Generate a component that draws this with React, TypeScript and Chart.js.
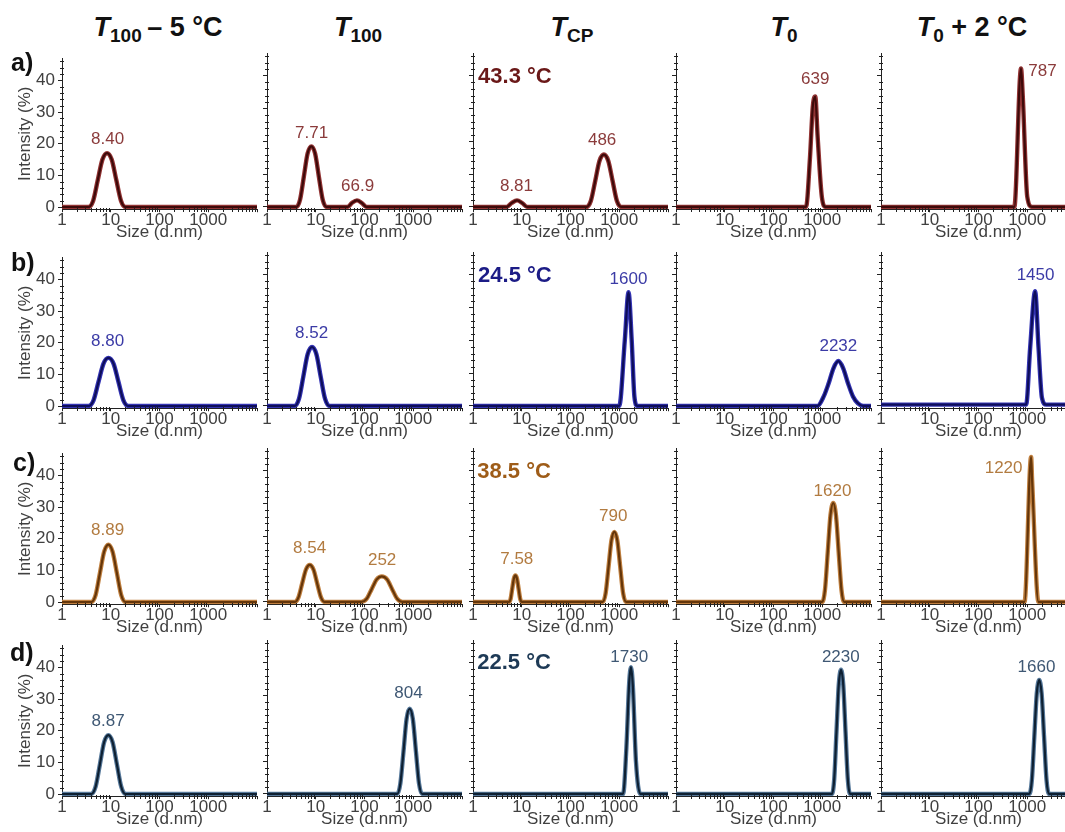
import React, { useEffect, useRef } from 'react';
import { Chart, registerables } from 'chart.js';

Chart.register(...registerables);

const FONT = '"Liberation Sans", Arial, Helvetica, sans-serif';

// ---------- axes ----------
const X_TICKS = [1, 10, 100, 1000, 10000];
const X_TICK_LABELS = ['1', '10', '100', '1000', ''];
const Y_TICKS = [0, 10, 20, 30, 40];
const X_TITLE = 'Size (d.nm)';
const Y_TITLE = 'Intensity (%)';
const ROW_LETTERS = ['a)', 'b)', 'c)', 'd)'];
const TEMPS = ['43.3 °C', '24.5 °C', '38.5 °C', '22.5 °C'];

// ---------- row a ----------
const a1Size = [1, 3.5, 4.36, 5.42, 6.75, 8.4, 10.45, 13, 16.2, 20.1, 10000];
const a1Int = [0, 0, 2, 8.5, 15, 17, 15, 8.5, 2, 0, 0];
const a1Labels = [['8.40', 8.6, 21.4]];

const a2Size = [1, 4, 4.76, 5.69, 6.8, 8.13, 9.7, 11.6, 13.9, 16.6, 45, 55, 70, 88, 110, 10000];
const a2Int = [0, 0, 2.2, 9.2, 16.3, 18.5, 16.3, 9.2, 2.2, 0, 0, 1.2, 2, 1.2, 0, 0];
const a2Labels = [['7.71', 8.2, 22.5], ['66.9', 72, 6.2]];

const a3Size = [1, 4.9, 6.2, 8, 10.2, 13, 214, 262, 322, 394, 484, 594, 729, 893, 1096, 10000];
const a3Int = [0, 0, 1.2, 2, 1.2, 0, 0, 1.9, 8, 14.1, 16, 14.1, 8, 1.9, 0, 0];
const a3Labels = [['8.81', 7.8, 6.4], ['486', 445, 20.2]];

const a4Size = [1, 465, 560, 640, 720, 800, 980, 1180, 10000];
const a4Int = [0, 0, 15, 30.6, 33.7, 22, 3.1, 0, 0];
const a4Labels = [['639', 720, 39.1]];

const a5Size = [1, 543, 745, 810, 1000, 1250, 10000];
const a5Int = [0, 0, 42.3, 33.7, 3.1, 0, 0];
const a5Labels = [['787', 1050, 41.3, 'left']];

// ---------- row b ----------
const b1Size = [1, 3.5, 4.43, 5.6, 7.1, 8.97, 11.4, 14.4, 18.2, 23, 10000];
const b1Int = [0, 0, 1.8, 7.6, 13.4, 15.2, 13.4, 7.6, 1.8, 0, 0];
const b1Labels = [['8.80', 8.6, 20.3]];

const b2Size = [1, 3.7, 4.54, 5.57, 6.83, 8.38, 10.3, 12.6, 15.5, 19, 10000];
const b2Int = [0, 0, 2.2, 9, 15.8, 18, 15.8, 9, 2.2, 0, 0];
const b2Labels = [['8.52', 8.2, 22.3]];

const b3Size = [1, 1000, 1300, 1550, 1800, 2050, 2350, 10000];
const b3Int = [0, 0, 20, 34.7, 20, 2.7, 0, 0];
const b3Labels = [['1600', 1550, 38.8]];

const b4Size = [1, 800, 1072, 1349, 1698, 2138, 2692, 3388, 4266, 5400, 6900, 10000];
const b4Int = [0, 0, 2.9, 6.85, 11.5, 13.7, 11.5, 6.85, 2.9, 0.8, 0, 0];
const b4Labels = [['2232', 2138, 18.3]];

const b5Size = [1, 950, 1150, 1450, 1700, 2000, 2450, 10000];
const b5Int = [0.4, 0.4, 18, 35, 18, 2.5, 0.4, 0.4];
const b5Labels = [['1450', 1480, 39.8]];

// ---------- row c ----------
const c1Size = [1, 4, 4.89, 5.98, 7.32, 8.94, 10.9, 13.4, 16.4, 20, 10000];
const c1Int = [0, 0, 2.2, 9.05, 15.9, 18.1, 15.9, 9.05, 2.2, 0, 0];
const c1Labels = [['8.89', 8.6, 22.6]];

const c2Size = [1, 3.7, 4.42, 5.27, 6.3, 7.52, 8.98, 10.7, 12.8, 15.3, 86, 110, 140, 178, 227, 290, 369, 471, 600, 10000];
const c2Int = [0, 0, 1.4, 5.65, 9.9, 11.3, 9.9, 5.65, 1.4, 0, 0, 0.9, 3.9, 6.9, 7.8, 6.9, 3.9, 0.9, 0, 0];
const c2Labels = [['8.54', 7.5, 16.4], ['252', 230, 12.7]];

const c3Size = [1, 5.5, 5.92, 6.38, 6.88, 7.41, 7.99, 8.61, 9.28, 10, 457, 525, 603, 692, 794, 912, 1047, 1202, 1380, 10000];
const c3Int = [0, 0, 1, 4.05, 7.1, 8.1, 7.1, 4.05, 1, 0, 0, 2.6, 10.7, 18.8, 21.4, 18.8, 10.7, 2.6, 0, 0];
const c3Labels = [['7.58', 7.9, 13], ['790', 750, 26]];

const c4Size = [1, 1000, 1138, 1295, 1475, 1679, 1910, 2174, 2477, 2818, 10000];
const c4Int = [0, 0, 3.7, 15.1, 26.5, 30.2, 26.5, 15.1, 3.7, 0, 0];
const c4Labels = [['1620', 1620, 33.8]];

const c5Size = [1, 880, 1200, 1260, 1700, 10000];
const c5Int = [0, 0, 44.3, 37, 0, 0];
const c5Labels = [['1220', 800, 40.9, 'right']];

// ---------- row d ----------
const d1Size = [1, 4, 4.89, 5.98, 7.32, 8.94, 10.9, 13.4, 16.4, 20, 10000];
const d1Int = [0, 0, 2.3, 9.3, 16.4, 18.6, 16.4, 9.3, 2.3, 0, 0];
const d1Labels = [['8.87', 8.8, 23]];

const d2Size = [1, 470, 544, 631, 730, 845, 980, 1135, 1313, 1520, 10000];
const d2Int = [0, 0, 3.2, 13, 22.9, 26, 22.9, 13, 3.2, 0, 0];
const d2Labels = [['804', 800, 30.6]];

const d3Size = [1, 1200, 1400, 1600, 1740, 1900, 2200, 2700, 10000];
const d3Int = [0, 0, 14, 34, 38.7, 33, 10, 0, 0];
const d3Labels = [['1730', 1600, 41.6]];

const d4Size = [1, 1585, 1762, 1959, 2181, 2427, 2698, 3000, 3342, 3715, 10000];
const d4Int = [0, 0, 4.6, 19, 33.3, 37.9, 33.3, 19, 4.6, 0, 0];
const d4Labels = [['2230', 2400, 41.6]];

const d5Size = [1, 1109, 1245, 1396, 1567, 1758, 1972, 2213, 2483, 2786, 10000];
const d5Int = [0, 0, 4.3, 17.4, 30.6, 34.8, 30.6, 17.4, 4.3, 0, 0];
const d5Labels = [['1660', 1550, 38.8]];

const PANELS: any[][] = [
  [[a1Size, a1Int, a1Labels], [a2Size, a2Int, a2Labels], [a3Size, a3Int, a3Labels], [a4Size, a4Int, a4Labels], [a5Size, a5Int, a5Labels]],
  [[b1Size, b1Int, b1Labels], [b2Size, b2Int, b2Labels], [b3Size, b3Int, b3Labels], [b4Size, b4Int, b4Labels], [b5Size, b5Int, b5Labels]],
  [[c1Size, c1Int, c1Labels], [c2Size, c2Int, c2Labels], [c3Size, c3Int, c3Labels], [c4Size, c4Int, c4Labels], [c5Size, c5Int, c5Labels]],
  [[d1Size, d1Int, d1Labels], [d2Size, d2Int, d2Labels], [d3Size, d3Int, d3Labels], [d4Size, d4Int, d4Labels], [d5Size, d5Int, d5Labels]],
];

// ---------- styles / layout ----------
const ROW_COLORS = [
  { outer: '#923434', inner: '#3e0a0a', label: '#8b3b3b', temp: '#6a1818' },
  { outer: '#3434b4', inner: '#0e0e5a', label: '#3b3ba6', temp: '#1c1c86' },
  { outer: '#c08040', inner: '#65360a', label: '#b27b40', temp: '#9e5c18' },
  { outer: '#56789a', inner: '#0e2032', label: '#3f5874', temp: '#1e3a56' },
];
const TEMP_POS = [[1.27, 39.6], [1.27, 39.8], [1.22, 39.8], [1.22, 39.9]];

const COL_X = [62, 267, 473, 676, 881];
const ROW_ZERO = [207, 406, 602, 794];
const PX = 3.275; // px per % unit
const Y_MIN = -0.7;
const Y_MAX = 47;
const PLOT_W = 195;
const PAD_TOP = 8;
const PAD_R = 2;
const X_H = 34;
const AXIS = '#222222';
const TXT = '#404040';

function Panel({ row, col }: { row: number; col: number }) {
  const ref = useRef<HTMLCanvasElement>(null);
  const [sizes, ints, labels] = PANELS[row][col];
  const colors = ROW_COLORS[row];
  const yW = col === 0 ? 62 : 10;
  const plotH = (Y_MAX - Y_MIN) * PX;
  const plotTop = ROW_ZERO[row] - Y_MAX * PX;
  const left = COL_X[col] - yW;
  const top = Math.round(plotTop - PAD_TOP);
  const width = yW + PLOT_W + PAD_R;
  const height = Math.round(PAD_TOP + plotH + X_H);
  const xh = height - PAD_TOP - plotH;

  useEffect(() => {
    if (!ref.current) return;
    const pts = sizes.map((s: number, i: number) => ({ x: s, y: ints[i] }));
    const annot = {
      id: 'annot',
      afterDraw(chart: any) {
        const { ctx } = chart;
        const xs = chart.scales.x;
        const ys = chart.scales.y;
        ctx.save();
        ctx.strokeStyle = AXIS;
        ctx.lineWidth = 1;
        // y minor ticks
        const ax = Math.round(xs.left) + 0.5;
        for (let v = 2; v <= 46; v += 2) {
          if (v % 10 === 0) continue;
          const py = Math.round(ys.getPixelForValue(v)) + 0.5;
          ctx.beginPath();
          ctx.moveTo(ax - 2.5, py);
          ctx.lineTo(ax + 1.5, py);
          ctx.stroke();
        }
        // x minor ticks
        const by = Math.round(ys.bottom) + 0.5;
        for (let d = 1; d <= 1000; d *= 10) {
          for (let m = 2; m <= 9; m++) {
            const v = m * d;
            const pxv = Math.round(xs.getPixelForValue(v)) + 0.5;
            ctx.beginPath();
            ctx.moveTo(pxv, by - 1.5);
            ctx.lineTo(pxv, by + 2.5);
            ctx.stroke();
          }
        }
        // peak labels
        ctx.fillStyle = colors.label;
        ctx.font = `17px ${FONT}`;
        ctx.textBaseline = 'middle';
        labels.forEach((lb: any[]) => {
          ctx.textAlign = lb[3] || 'center';
          ctx.fillText(lb[0], xs.getPixelForValue(lb[1]), ys.getPixelForValue(lb[2]));
        });
        if (col === 2) {
          ctx.fillStyle = colors.temp;
          ctx.font = `bold 22px ${FONT}`;
          ctx.textAlign = 'left';
          ctx.fillText(TEMPS[row], xs.getPixelForValue(TEMP_POS[row][0]), ys.getPixelForValue(TEMP_POS[row][1]));
        }
        ctx.restore();
      },
    };
    const chart = new Chart(ref.current, {
      type: 'line',
      data: {
        datasets: [
          { data: pts, borderColor: colors.inner, borderWidth: 2.2, pointRadius: 0, fill: false, cubicInterpolationMode: 'monotone', order: 1 } as any,
          { data: pts, borderColor: colors.outer, borderWidth: 4.4, pointRadius: 0, fill: false, cubicInterpolationMode: 'monotone', order: 2 } as any,
        ],
      },
      options: {
        animation: false,
        responsive: false,
        maintainAspectRatio: false,
        events: [],
        layout: { padding: { top: PAD_TOP, right: PAD_R, left: 0, bottom: 0 } },
        plugins: { legend: { display: false }, tooltip: { enabled: false } },
        scales: {
          x: {
            type: 'logarithmic',
            min: 1,
            max: 10000,
            afterBuildTicks: (s: any) => {
              s.ticks = X_TICKS.map((v) => ({ value: v }));
            },
            afterFit: (s: any) => {
              s.height = xh;
            },
            ticks: {
              autoSkip: false,
              maxRotation: 0,
              minRotation: 0,
              padding: -2,
              color: TXT,
              font: { family: FONT, size: 17 },
              callback: (v: any) => {
                const i = X_TICKS.indexOf(Number(v));
                return i >= 0 ? X_TICK_LABELS[i] : '';
              },
            },
            grid: { drawOnChartArea: false, drawTicks: true, tickLength: 3, color: AXIS },
            border: { display: true, color: AXIS, width: 1 },
            title: { display: true, text: X_TITLE, color: TXT, font: { family: FONT, size: 17 }, padding: { top: 0, bottom: 0 } },
          },
          y: {
            type: 'linear',
            min: Y_MIN,
            max: Y_MAX,
            afterBuildTicks: (s: any) => {
              s.ticks = Y_TICKS.map((v) => ({ value: v }));
            },
            afterFit: (s: any) => {
              s.width = yW;
            },
            ticks: {
              display: col === 0,
              padding: 3,
              color: TXT,
              font: { family: FONT, size: 17 },
            },
            grid: { drawOnChartArea: false, drawTicks: true, tickLength: 4, color: AXIS },
            border: { display: true, color: AXIS, width: 1 },
            title: { display: col === 0, text: Y_TITLE, color: TXT, font: { family: FONT, size: 17 }, padding: { top: 15, bottom: 0 } },
          },
        },
      },
      plugins: [annot],
    });
    return () => chart.destroy();
  }, []);

  return (
    <canvas
      ref={ref}
      width={width}
      height={height}
      style={{ position: 'absolute', left, top, width, height }}
    />
  );
}

const HEADER_X = [158, 358, 572, 784, 972];
const LETTER_POS = [[11, 62], [11, 262], [13, 462], [10, 652]];

function Header({ idx }: { idx: number }) {
  const sub = { fontSize: 19, position: 'relative' as const, top: 6 };
  const parts = [
    <>
      <i>T</i>
      <span style={sub}>100</span>
      {'\u2009– 5 °C'}
    </>,
    <>
      <i>T</i>
      <span style={sub}>100</span>
    </>,
    <>
      <i>T</i>
      <span style={sub}>CP</span>
    </>,
    <>
      <i>T</i>
      <span style={sub}>0</span>
    </>,
    <>
      <i>T</i>
      <span style={sub}>0</span>
      {' + 2 °C'}
    </>,
  ];
  return (
    <div
      style={{
        position: 'absolute',
        left: HEADER_X[idx],
        top: 12,
        transform: 'translateX(-50%)',
        fontFamily: FONT,
        fontWeight: 'bold',
        fontSize: 27,
        lineHeight: '30px',
        whiteSpace: 'nowrap',
        color: '#111',
      }}
    >
      {parts[idx]}
    </div>
  );
}

export default function App() {
  const rows = [0, 1, 2, 3];
  const cols = [0, 1, 2, 3, 4];
  return (
    <div
      style={{
        position: 'fixed',
        left: 0,
        top: 0,
        width: 1065,
        height: 832,
        overflow: 'hidden',
        background: '#ffffff',
      }}
    >
      {cols.map((c) => (
        <Header key={'h' + c} idx={c} />
      ))}
      {rows.map((r) =>
        cols.map((c) => <Panel key={r + '-' + c} row={r} col={c} />)
      )}
      {rows.map((r) => (
        <div
          key={'l' + r}
          style={{
            position: 'absolute',
            left: LETTER_POS[r][0],
            top: LETTER_POS[r][1] - 15,
            fontFamily: FONT,
            fontWeight: 'bold',
            fontSize: 25,
            lineHeight: '30px',
            color: '#111',
          }}
        >
          {ROW_LETTERS[r]}
        </div>
      ))}
    </div>
  );
}
